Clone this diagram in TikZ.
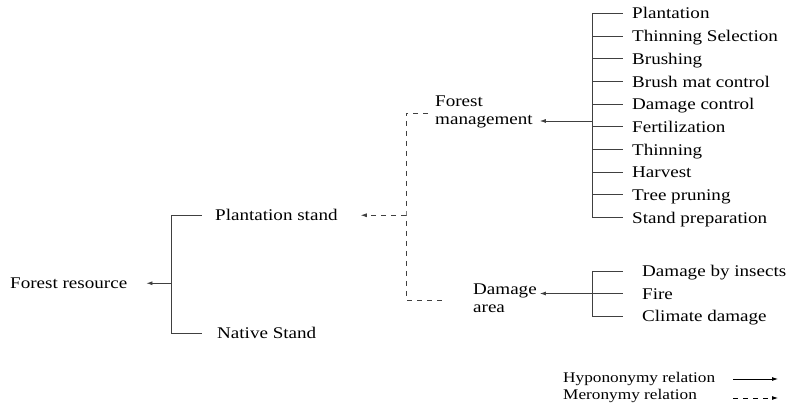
\documentclass[tikz,border=0pt]{standalone}
\usepackage{fontspec}
\setmainfont{Liberation Serif}[FakeStretch=1.17]
\usetikzlibrary{arrows.meta}
\begin{document}
\begin{tikzpicture}[x=1pt,y=-1pt,
  lbl/.style={anchor=west,inner sep=0pt,font=\fontsize{16.3}{18}\selectfont,text height=12pt,text depth=0.5pt},
  ml/.style={anchor=base west,inner sep=0pt,align=left,font=\fontsize{16.3}{18}\selectfont},
  leg/.style={anchor=base west,inner sep=0pt,font=\fontsize{14.75}{16}\selectfont},
  tree/.style={draw=black!75,line width=0.8pt},
  tip/.style={-{Latex[length=6pt,width=4pt]}},
  hyp/.style={tree,tip},
  mer/.style={tree,dash pattern=on 5pt off 5pt},
  merarr/.style={mer,tip}]
\useasboundingbox (0,0) rectangle (788,411);

% right tree: forest management activities
\foreach \t [count=\i from 0] in {Plantation,Thinning Selection,Brushing,Brush mat control,Damage control,Fertilization,Thinning,Harvest,Tree pruning,Stand preparation}
  \node[lbl] (r\i) at (632,{13.25+22.67*\i}) {\t};
\coordinate (rj) at (592,121);
\draw[tree] (rj |- r0) -- (rj |- r9);
\foreach \i in {0,...,9}
  \draw[tree] (rj |- r\i) -- ([xshift=-9pt]r\i.west);

\node[ml] (fm) at (435,125) {Forest\\management};
\draw[hyp] (rj) -- ([xshift=7pt]rj -| fm.east);

% damage tree
\node[lbl] (d0) at (642,271) {Damage by insects};
\node[lbl] (d1) at (642,293.5) {Fire};
\node[lbl] (d2) at (642,316) {Climate damage};
\coordinate (dj) at (592,293.5);
\draw[tree] (dj |- d0) -- (dj |- d2);
\foreach \i in {0,1,2}
  \draw[tree] (dj |- d\i) -- ([xshift=-19pt]d\i.west);

\node[ml] (da) at (473,313) {Damage\\area};
\draw[hyp] (dj) -- ([xshift=3pt]dj -| da.east);

% left tree
\node[lbl] (ps) at (215,215.25) {Plantation stand};
\node[lbl] (ns) at (217,333.25) {Native Stand};
\node[lbl] (fr) at (10,283.25) {Forest resource};
\coordinate (lj) at (171,283.25);
\draw[tree] (lj |- ps) -- (lj |- ns);
\draw[tree] (lj |- ps) -- ([xshift=-13pt]ps.west);
\draw[tree] (lj |- ns) -- ([xshift=-15pt]ns.west);
\draw[hyp] (lj) -- ([xshift=19pt]fr.east);

% meronymy bracket
\coordinate (mj) at (406,215.25);
\coordinate (mt) at (428,113);
\coordinate (mb) at (443,300);
\draw[mer] (mt) -| (mj) |- (mb);
\draw[merarr] (mj) -- ([xshift=23pt]ps.east);

% legend
\node[leg] (lh) at (563,383) {Hypononymy relation};
\node[leg] (lm) at (563,400) {Meronymy relation};
\coordinate (ha) at (733,379);
\coordinate (hb) at (778,379);
\coordinate (ma) at (733,398);
\coordinate (mbb) at (778,398);
\draw[black,line width=0.75pt,tip] (ha) -- (hb);
\draw[black,line width=0.75pt,tip,dash pattern=on 5pt off 5pt] (ma) -- (mbb);
\end{tikzpicture}
\end{document}
